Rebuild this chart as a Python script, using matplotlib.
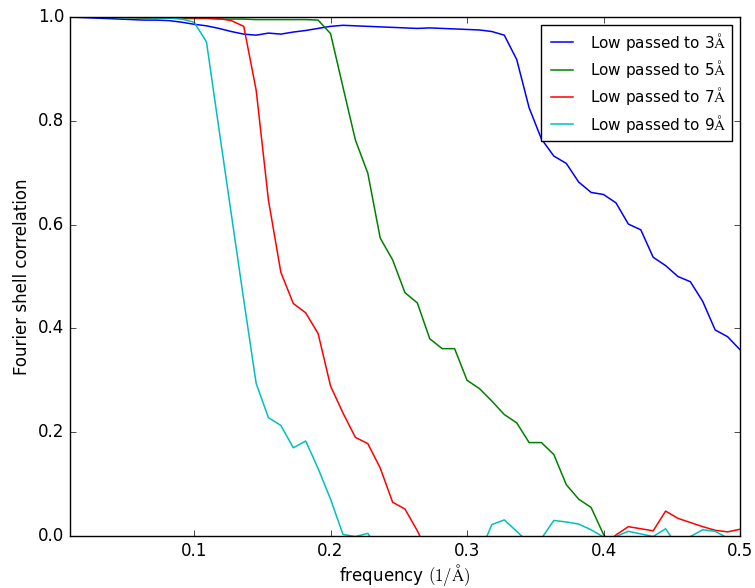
"""Fourier shell correlation of a map low passed to several resolutions."""

import matplotlib

matplotlib.use("Agg")
import matplotlib.pyplot as plt


# spatial frequency of each shell (1/A)
FREQUENCY = [
    0.0091, 0.0182, 0.0273, 0.0364, 0.0455, 0.0545, 0.0636, 0.0727, 0.0818, 0.0909,
    0.1000, 0.1091, 0.1182, 0.1273, 0.1364, 0.1455, 0.1545, 0.1636, 0.1727, 0.1818,
    0.1909, 0.2000, 0.2091, 0.2182, 0.2273, 0.2364, 0.2455, 0.2545, 0.2636, 0.2727,
    0.2818, 0.2909, 0.3000, 0.3091, 0.3182, 0.3273, 0.3364, 0.3455, 0.3545, 0.3636,
    0.3727, 0.3818, 0.3909, 0.4000, 0.4091, 0.4182, 0.4273, 0.4364, 0.4455, 0.4545,
    0.4636, 0.4727, 0.4818, 0.4909, 0.5000,
]

FSC_3A = [
    1.000, 0.999, 0.998, 0.997, 0.996, 0.995, 0.994, 0.994, 0.993, 0.990,
    0.986, 0.983, 0.978, 0.972, 0.967, 0.965, 0.969, 0.967, 0.971, 0.974,
    0.978, 0.982, 0.984, 0.983, 0.982, 0.981, 0.980, 0.979, 0.978, 0.979,
    0.978, 0.977, 0.976, 0.975, 0.972, 0.965, 0.918, 0.825, 0.765, 0.732,
    0.718, 0.682, 0.662, 0.658, 0.642, 0.601, 0.590, 0.537, 0.521, 0.500,
    0.490, 0.452, 0.397, 0.384, 0.359,
]

FSC_5A = [
    1.000, 1.000, 1.000, 0.999, 0.999, 0.999, 0.998, 0.998, 0.998, 0.997,
    0.997, 0.997, 0.996, 0.996, 0.996, 0.995, 0.995, 0.995, 0.995, 0.995,
    0.994, 0.968, 0.865, 0.763, 0.699, 0.574, 0.532, 0.469, 0.449, 0.380,
    0.361, 0.361, 0.300, 0.284, 0.260, 0.234, 0.218, 0.180, 0.180, 0.157,
    0.099, 0.071, 0.055, 0.003, -0.032, -0.018, -0.041, -0.025, -0.037, -0.022,
    -0.030, -0.045, -0.028, -0.036, -0.040,
]

FSC_7A = [
    1.000, 1.000, 1.000, 1.000, 1.000, 0.999, 0.999, 0.999, 0.999, 0.999,
    0.998, 0.998, 0.997, 0.993, 0.982, 0.859, 0.647, 0.508, 0.448, 0.430,
    0.390, 0.289, 0.237, 0.190, 0.178, 0.131, 0.065, 0.052, 0.010, -0.040,
    -0.028, -0.051, -0.035, -0.044, -0.021, -0.038, -0.047, -0.026, -0.033, -0.019,
    -0.042, -0.030, -0.024, -0.020, 0.002, 0.018, 0.014, 0.010, 0.048, 0.034,
    0.026, 0.018, 0.011, 0.008, 0.013,
]

FSC_9A = [
    1.000, 1.000, 1.000, 1.000, 0.999, 0.999, 0.999, 0.998, 0.998, 0.996,
    0.990, 0.952, 0.785, 0.620, 0.455, 0.294, 0.228, 0.213, 0.170, 0.183,
    0.130, 0.071, 0.003, -0.001, 0.005, -0.030, -0.052, -0.041, -0.060, -0.033,
    -0.048, -0.022, -0.040, -0.034, 0.022, 0.031, 0.009, -0.014, -0.005, 0.030,
    0.027, 0.023, 0.012, -0.002, -0.001, 0.009, 0.004, -0.001, 0.014, -0.021,
    -0.001, 0.012, 0.009, -0.004, -0.020,
]

CURVES = [
    (FSC_3A, "b", r"Low passed to 3$\mathrm{\AA}$"),
    (FSC_5A, "g", r"Low passed to 5$\mathrm{\AA}$"),
    (FSC_7A, "r", r"Low passed to 7$\mathrm{\AA}$"),
    (FSC_9A, "c", r"Low passed to 9$\mathrm{\AA}$"),
]


def main() -> None:
    plt.style.use("classic")
    fig = plt.figure(figsize=(7.55, 5.88), dpi=100, facecolor="white")
    ax = fig.add_axes([70 / 755, 52 / 588, 670 / 755, 519 / 588])

    for values, color, label in CURVES:
        ax.plot(FREQUENCY, values, color=color, linewidth=1.1, label=label)

    ax.set_xlim(FREQUENCY[0], FREQUENCY[-1])
    ax.set_ylim(0, 1)
    ax.set_xlabel(r"frequency $(1/\mathrm{\AA})$", fontsize=12, labelpad=2)
    ax.set_ylabel("Fourier shell correlation", fontsize=12)
    ax.tick_params(labelsize=12)
    ax.legend(loc="upper right", fontsize=11, labelspacing=0.35)

    fig.savefig("out.png", dpi=100, facecolor="white")
    plt.close(fig)


if __name__ == "__main__":
    main()
